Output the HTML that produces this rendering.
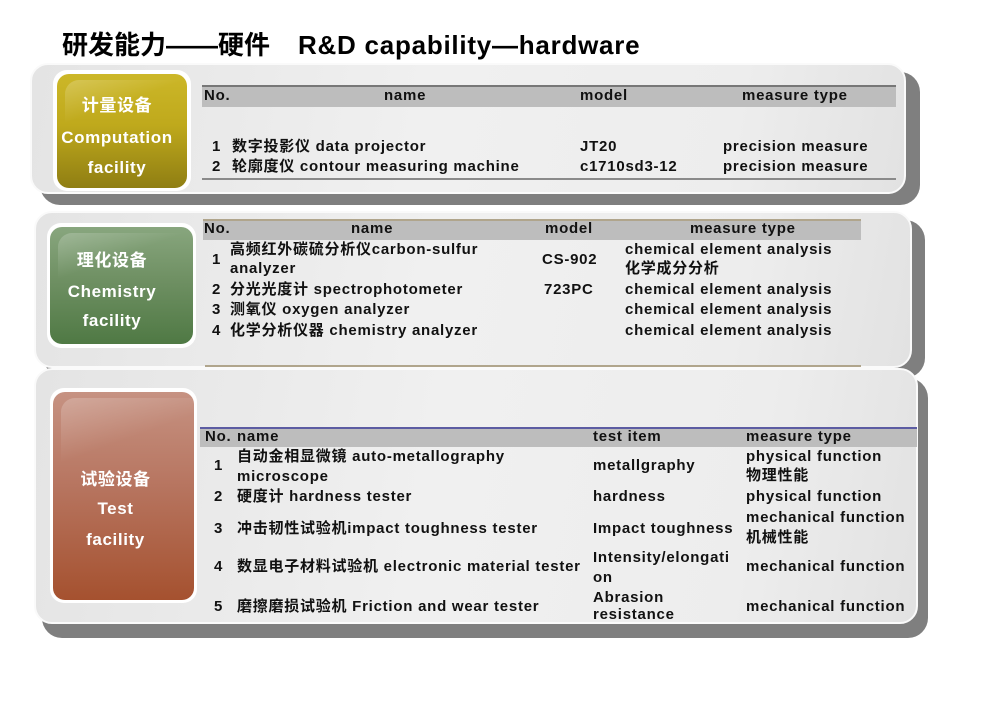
<!DOCTYPE html>
<html><head><meta charset="utf-8">
<style>
html,body{margin:0;padding:0;background:#fff;}
body{width:1000px;height:714px;position:relative;overflow:hidden;font-family:"Liberation Sans","Noto Sans CJK SC",sans-serif;}
.a{position:absolute;}
.t{position:absolute;font-weight:bold;font-size:15px;line-height:18px;color:#111;white-space:nowrap;letter-spacing:0.75px;}
.sh{position:absolute;background:#7f7f7f;border-radius:20px;}
.pn{position:absolute;border-radius:18px;background:linear-gradient(100deg,#e4e4e4 0%,#f0f0f0 45%,#ededed 80%,#e2e2e2 100%);border:2px solid #fafafa;box-sizing:border-box;}
.lb{position:absolute;border-radius:14px;background:#fff;}
.li{position:absolute;border-radius:12px;overflow:hidden;}
.li:before{content:"";position:absolute;left:8px;top:6px;width:120%;height:60%;border-radius:14px 0 0 0;background:linear-gradient(160deg,rgba(255,255,255,0.22),rgba(255,255,255,0) 35%);}
.lt{position:absolute;text-align:center;color:#fff;font-weight:bold;font-size:17px;line-height:20px;white-space:nowrap;letter-spacing:0.6px;}
.hb{position:absolute;background:#bdbdbd;}
</style></head><body>

<div class="t" style="left:62px;top:29px;font-size:26px;line-height:32px;color:#000;letter-spacing:0;">研发能力——硬件</div>
<div class="t" style="left:298px;top:29px;font-size:26px;line-height:32px;color:#000;letter-spacing:0.75px;">R&amp;D capability—hardware</div>

<!-- Panel 1 -->
<div class="sh" style="left:40px;top:72px;width:880px;height:133px;"></div>
<div class="pn" style="left:30px;top:63px;width:876px;height:131px;"></div>
<div class="lb" style="left:53px;top:70px;width:138px;height:121px;"></div>
<div class="li" style="left:57px;top:74px;width:130px;height:114px;background:linear-gradient(180deg,#ccb728 0%,#bfa91c 45%,#8f7e13 100%);">
  <div class="lt" style="top:22px;left:-10px;width:140px;">计量设备</div>
  <div class="lt" style="top:54px;left:-10px;width:140px;">Computation</div>
  <div class="lt" style="top:84px;left:-10px;width:140px;">facility</div>
</div>
<div class="hb" style="left:202px;top:85px;width:694px;height:22px;border-top:2px solid #777;box-sizing:border-box;"></div>
<div class="t" style="left:204px;top:87px;">No.</div>
<div class="t" style="left:384px;top:87px;">name</div>
<div class="t" style="left:580px;top:87px;">model</div>
<div class="t" style="left:742px;top:87px;">measure type</div>
<div class="t" style="left:212px;top:138px;">1</div>
<div class="t" style="left:232px;top:138px;">数字投影仪 data projector</div>
<div class="t" style="left:580px;top:138px;">JT20</div>
<div class="t" style="left:723px;top:138px;">precision measure</div>
<div class="t" style="left:212px;top:158px;">2</div>
<div class="t" style="left:232px;top:158px;">轮廓度仪 contour measuring machine</div>
<div class="t" style="left:580px;top:158px;">c1710sd3-12</div>
<div class="t" style="left:723px;top:158px;">precision measure</div>
<div class="a" style="left:202px;top:178px;width:694px;height:2px;background:#8a8a8a;"></div>

<!-- Panel 2 -->
<div class="sh" style="left:44px;top:220px;width:881px;height:158px;"></div>
<div class="pn" style="left:34px;top:211px;width:878px;height:157px;"></div>
<div class="lb" style="left:47px;top:223px;width:149px;height:125px;"></div>
<div class="li" style="left:50px;top:227px;width:143px;height:117px;background:linear-gradient(180deg,#88a67e 0%,#6f9063 45%,#4f7944 100%);">
  <div class="lt" style="top:24px;left:-18px;width:160px;">理化设备</div>
  <div class="lt" style="top:55px;left:-18px;width:160px;">Chemistry</div>
  <div class="lt" style="top:84px;left:-18px;width:160px;">facility</div>
</div>
<div class="hb" style="left:203px;top:219px;width:658px;height:21px;border-top:2px solid #b0a58c;box-sizing:border-box;"></div>
<div class="t" style="left:204px;top:220px;">No.</div>
<div class="t" style="left:351px;top:220px;">name</div>
<div class="t" style="left:545px;top:220px;">model</div>
<div class="t" style="left:690px;top:220px;">measure type</div>
<div class="t" style="left:212px;top:251px;">1</div>
<div class="t" style="left:230px;top:241px;">高频红外碳硫分析仪carbon-sulfur</div>
<div class="t" style="left:230px;top:260px;">analyzer</div>
<div class="t" style="left:542px;top:251px;">CS-902</div>
<div class="t" style="left:625px;top:241px;">chemical element analysis</div>
<div class="t" style="left:625px;top:260px;">化学成分分析</div>
<div class="t" style="left:212px;top:281px;">2</div>
<div class="t" style="left:230px;top:281px;">分光光度计 spectrophotometer</div>
<div class="t" style="left:544px;top:281px;">723PC</div>
<div class="t" style="left:625px;top:281px;">chemical element analysis</div>
<div class="t" style="left:212px;top:301px;">3</div>
<div class="t" style="left:230px;top:301px;">测氧仪 oxygen analyzer</div>
<div class="t" style="left:625px;top:301px;">chemical element analysis</div>
<div class="t" style="left:212px;top:322px;">4</div>
<div class="t" style="left:230px;top:322px;">化学分析仪器 chemistry analyzer</div>
<div class="t" style="left:625px;top:322px;">chemical element analysis</div>
<div class="a" style="left:205px;top:365px;width:656px;height:2px;background:#b0a58c;"></div>

<!-- Panel 3 -->
<div class="sh" style="left:42px;top:378px;width:886px;height:260px;"></div>
<div class="pn" style="left:34px;top:368px;width:884px;height:256px;"></div>
<div class="lb" style="left:50px;top:388px;width:147px;height:215px;"></div>
<div class="li" style="left:53px;top:392px;width:141px;height:208px;background:linear-gradient(180deg,#c69282 0%,#b77560 45%,#a5512f 100%);">
  <div class="lt" style="top:78px;left:-16px;width:157px;">试验设备</div>
  <div class="lt" style="top:107px;left:-16px;width:157px;">Test</div>
  <div class="lt" style="top:138px;left:-16px;width:157px;">facility</div>
</div>
<div class="hb" style="left:200px;top:427px;width:717px;height:20px;border-top:2px solid #5c5ca2;box-sizing:border-box;"></div>
<div class="t" style="left:205px;top:428px;">No.</div>
<div class="t" style="left:237px;top:428px;">name</div>
<div class="t" style="left:593px;top:428px;">test item</div>
<div class="t" style="left:746px;top:428px;">measure type</div>

<div class="t" style="left:214px;top:457px;">1</div>
<div class="t" style="left:237px;top:448px;">自动金相显微镜 auto-metallography</div>
<div class="t" style="left:237px;top:468px;">microscope</div>
<div class="t" style="left:593px;top:457px;">metallgraphy</div>
<div class="t" style="left:746px;top:448px;">physical function</div>
<div class="t" style="left:746px;top:467px;">物理性能</div>

<div class="t" style="left:214px;top:488px;">2</div>
<div class="t" style="left:237px;top:488px;">硬度计 hardness tester</div>
<div class="t" style="left:593px;top:488px;">hardness</div>
<div class="t" style="left:746px;top:488px;">physical function</div>

<div class="t" style="left:214px;top:520px;">3</div>
<div class="t" style="left:237px;top:520px;">冲击韧性试验机impact toughness tester</div>
<div class="t" style="left:593px;top:520px;">Impact toughness</div>
<div class="t" style="left:746px;top:509px;">mechanical function</div>
<div class="t" style="left:746px;top:529px;">机械性能</div>

<div class="t" style="left:214px;top:558px;">4</div>
<div class="t" style="left:237px;top:558px;">数显电子材料试验机 electronic material tester</div>
<div class="t" style="left:593px;top:549px;">Intensity/elongati</div>
<div class="t" style="left:593px;top:569px;">on</div>
<div class="t" style="left:746px;top:558px;">mechanical function</div>

<div class="t" style="left:214px;top:598px;">5</div>
<div class="t" style="left:237px;top:598px;">磨擦磨损试验机 Friction and wear tester</div>
<div class="t" style="left:593px;top:589px;">Abrasion</div>
<div class="t" style="left:593px;top:606px;">resistance</div>
<div class="t" style="left:746px;top:598px;">mechanical function</div>

</body></html>
